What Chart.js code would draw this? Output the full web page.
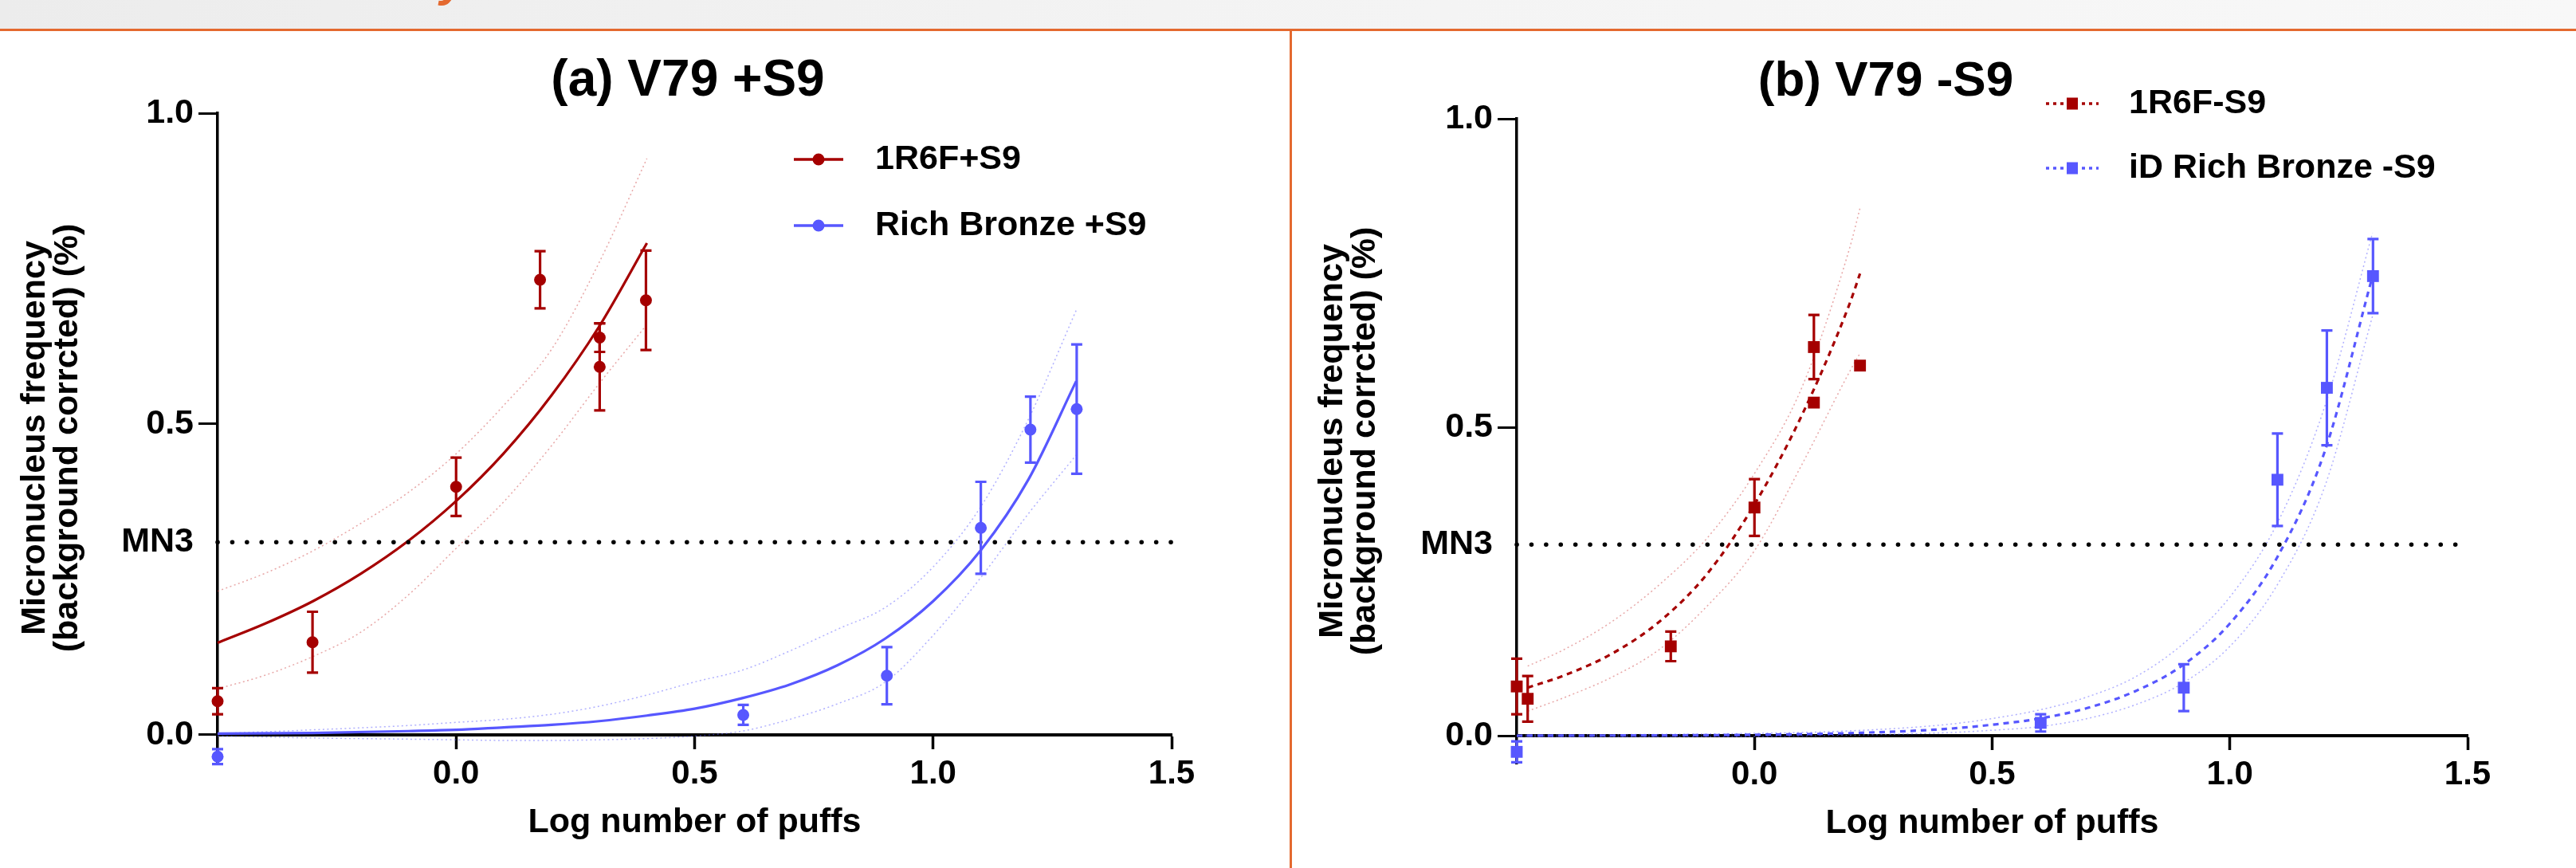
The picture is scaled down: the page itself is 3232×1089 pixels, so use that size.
<!DOCTYPE html>
<html>
<head>
<meta charset="utf-8">
<script src="https://cdn.jsdelivr.net/npm/chart.js@4.4.1/dist/chart.umd.min.js"></script>
<style>
html,body{margin:0;padding:0;background:#fff;}
body{width:3232px;height:1089px;overflow:hidden;position:relative;font-family:"Liberation Sans",Arial,sans-serif;}
#topband{position:absolute;left:0;top:0;width:3232px;height:37px;background:linear-gradient(to right,#ececec,#f3f3f3 45%,#f8f8f8);}
#ydesc{position:absolute;left:552px;top:-55px;font:italic bold 60px/60px "Liberation Sans",Arial,sans-serif;color:#e4692f;}
#hline{position:absolute;left:0;top:36px;width:3232px;height:3px;background:#e4692f;}
#vline{position:absolute;left:1618px;top:36px;width:3px;height:1053px;background:#e4692f;}
canvas{position:absolute;top:0;}
#ca{left:0;}
#cb{left:1616px;}
</style>
</head>
<body>
<div id="topband"></div>
<div id="ydesc">y</div>
<div id="hline"></div>
<div id="vline"></div>
<canvas id="ca" width="1616" height="1089"></canvas>
<canvas id="cb" width="1616" height="1089"></canvas>
<script>
// ---------- shared axis data ----------
const xTickValues = [0, 0.5, 1.0, 1.5];
const xTickLabels = ['0.0', '0.5', '1.0', '1.5'];
const yTickValues = [0, 0.31, 0.5, 1.0];
const yTickLabels = ['0.0', 'MN3', '0.5', '1.0'];
const mn3Value = 0.31;
const mn3X = [-0.5, 1.5];
const mn3Y = [0.31, 0.31];
const xTitle = 'Log number of puffs';
const yTitleLines = ['Micronucleus frequency', '(background corrcted) (%)'];

// ---------- panel (a) V79 +S9 ----------
const titleA = '(a) V79 +S9';
const legendA = ['1R6F+S9', 'Rich Bronze +S9'];
const aRedX   = [-0.5, -0.301, 0, 0.176, 0.301, 0.301, 0.398];
const aRedY   = [0.054, 0.149, 0.399, 0.732, 0.639, 0.592, 0.699];
const aRedErr = [0.021, 0.049, 0.047, 0.046, 0.023, 0.070, 0.080];
const aBlueX   = [-0.5, 0.602, 0.903, 1.1, 1.204, 1.301];
const aBlueY   = [-0.035, 0.032, 0.095, 0.333, 0.491, 0.524];
const aBlueErr = [0.012, 0.016, 0.046, 0.074, 0.053, 0.104];
const aRedFitX  = [-0.5, -0.4, -0.3, -0.2, -0.1, 0, 0.1, 0.2, 0.3, 0.4];
const aRedFitY  = [0.148, 0.179, 0.215, 0.259, 0.312, 0.376, 0.453, 0.546, 0.657, 0.791];
const aRedUpper = [0.231, 0.260, 0.296, 0.340, 0.390, 0.452, 0.530, 0.620, 0.760, 0.927];
const aRedLower = [0.074, 0.096, 0.126, 0.165, 0.225, 0.300, 0.375, 0.465, 0.565, 0.660];
const aBlueFitX  = [-0.5, -0.3, -0.1, 0, 0.1, 0.2, 0.3, 0.4, 0.5, 0.6, 0.7, 0.8, 0.9, 1.0, 1.1, 1.2, 1.3];
const aBlueFitY  = [0.002, 0.003, 0.006, 0.008, 0.012, 0.016, 0.022, 0.031, 0.042, 0.059, 0.081, 0.112, 0.155, 0.215, 0.297, 0.411, 0.569];
const aBlueUpper = [0.002, 0.008, 0.015, 0.020, 0.025, 0.033, 0.046, 0.064, 0.085, 0.104, 0.135, 0.170, 0.205, 0.270, 0.367, 0.508, 0.683];
const aBlueLower = [-0.002, -0.005, -0.007, -0.008, -0.009, -0.009, -0.008, -0.006, -0.002, 0.006, 0.025, 0.050, 0.085, 0.160, 0.253, 0.356, 0.450];

// ---------- panel (b) V79 -S9 ----------
const titleB = '(b) V79 -S9';
const legendB = ['1R6F-S9', 'iD Rich Bronze -S9'];
const bRedX   = [-0.5, -0.477, -0.176, 0, 0.125, 0.125, 0.222];
const bRedY   = [0.080, 0.060, 0.145, 0.370, 0.630, 0.540, 0.600];
const bRedErr = [0.045, 0.037, 0.024, 0.046, 0.052, 0.006, 0];
const bBlueX   = [-0.5, 0.602, 0.903, 1.1, 1.204, 1.301];
const bBlueY   = [-0.026, 0.021, 0.078, 0.415, 0.564, 0.745];
const bBlueErr = [0.017, 0.014, 0.038, 0.075, 0.093, 0.060];
const bRedFitX  = [-0.477, -0.4, -0.3, -0.2, -0.1, 0, 0.1, 0.2, 0.222];
const bRedFitY  = [0.078, 0.098, 0.133, 0.185, 0.262, 0.375, 0.520, 0.700, 0.749];
const bRedUpper = [0.113, 0.140, 0.185, 0.245, 0.320, 0.425, 0.565, 0.790, 0.855];
const bRedLower = [0.040, 0.062, 0.095, 0.140, 0.210, 0.300, 0.440, 0.590, 0.620];
const bBlueFitX  = [-0.5, 0, 0.2, 0.4, 0.5, 0.6, 0.7, 0.8, 0.9, 1.0, 1.1, 1.2, 1.3];
const bBlueFitY  = [0.0002, 0.0017, 0.0044, 0.011, 0.018, 0.028, 0.045, 0.072, 0.114, 0.182, 0.290, 0.462, 0.745];
const bBlueUpper = [0.001, 0.004, 0.008, 0.018, 0.028, 0.042, 0.063, 0.095, 0.148, 0.225, 0.345, 0.535, 0.815];
const bBlueLower = [-0.001, -0.001, 0.001, 0.005, 0.009, 0.015, 0.028, 0.050, 0.085, 0.145, 0.245, 0.405, 0.680];

// ---------- styling ----------
const FONT = '"Liberation Sans", Arial, Helvetica, sans-serif';
const RED = '#a50000';
const BLUE = '#5757ff';
const RED_BAND = 'rgba(210, 80, 80, 0.5)';
const BLUE_BAND = 'rgba(100, 100, 255, 0.5)';

function pts(xs, ys) { return xs.map((x, i) => ({x: x, y: ys[i]})); }

function errPlugin(groups) {
  return {
    id: 'errbars',
    afterDatasetsDraw(chart) {
      const ctx = chart.ctx, sx = chart.scales.x, sy = chart.scales.y;
      groups.forEach(g => {
        ctx.save();
        ctx.strokeStyle = g.color; ctx.lineWidth = 3.2; ctx.lineCap = 'butt';
        g.xs.forEach((xv, i) => {
          const e = g.err[i];
          if (!e) return;
          const px = sx.getPixelForValue(xv);
          const t = sy.getPixelForValue(g.ys[i] + e);
          const b = sy.getPixelForValue(g.ys[i] - e);
          ctx.beginPath();
          ctx.moveTo(px, t); ctx.lineTo(px, b);
          ctx.moveTo(px - 7, t); ctx.lineTo(px + 7, t);
          ctx.moveTo(px - 7, b); ctx.lineTo(px + 7, b);
          ctx.stroke();
        });
        ctx.restore();
      });
    }
  };
}

function decoPlugin(spec) {
  return {
    id: 'deco',
    afterDraw(chart) {
      const ctx = chart.ctx;
      ctx.save();
      ctx.fillStyle = '#000';
      ctx.font = 'bold ' + spec.titleSize + 'px ' + FONT;
      ctx.textAlign = 'center'; ctx.textBaseline = 'middle';
      ctx.fillText(spec.title, spec.titleX, spec.titleY);
      spec.items.forEach((it, i) => {
        const yy = spec.rowsY[i];
        ctx.strokeStyle = it.color; ctx.lineWidth = 3.5;
        ctx.setLineDash(it.dash || []);
        ctx.beginPath(); ctx.moveTo(spec.lx0, yy); ctx.lineTo(spec.lx1, yy); ctx.stroke();
        ctx.setLineDash([]);
        ctx.fillStyle = it.color;
        const cx = (spec.lx0 + spec.lx1) / 2;
        if (it.shape === 'rect') { ctx.fillRect(cx - 7, yy - 7.5, 14, 15); }
        else { ctx.beginPath(); ctx.arc(cx, yy, 7.5, 0, Math.PI * 2); ctx.fill(); }
        ctx.fillStyle = '#000';
        ctx.font = 'bold 43px ' + FONT;
        ctx.textAlign = 'left'; ctx.textBaseline = 'middle';
        ctx.fillText(it.text, spec.tx, yy);
      });
      ctx.restore();
    }
  };
}

function scalesFor(p) {
  return {
    x: {
      type: 'linear', min: -0.5, max: 1.5, bounds: 'data', position: {y: 0},
      afterBuildTicks: s => { s.ticks = xTickValues.map(v => ({value: v})); },
      ticks: { callback: (v, i) => xTickLabels[i], font: {family: FONT, size: 42, weight: 'bold'}, color: '#000', padding: 8, maxRotation: 0, autoSkip: false },
      grid: { drawOnChartArea: false, drawTicks: true, tickLength: 16, tickWidth: 3.5, tickColor: '#000', color: '#000' },
      border: { display: true, color: '#000', width: 4 },
      title: { display: true, text: xTitle, font: {family: FONT, size: 43, weight: 'bold'}, color: '#000', padding: {top: 2, bottom: 0} }
    },
    y: {
      type: 'linear', min: -0.045, max: 1.0, bounds: 'data', position: 'left',
      afterBuildTicks: s => { s.ticks = yTickValues.map(v => ({value: v})); },
      afterFit: s => { s.width = p.yw; },
      ticks: { callback: (v, i) => yTickLabels[i], font: {family: FONT, size: 43, weight: 'bold'}, color: '#000', padding: 6, autoSkip: false },
      grid: { drawOnChartArea: false, drawTicks: true, tickLength: 24, tickWidth: 3,
              tickColor: c => (c.tick && c.tick.value === mn3Value) ? 'rgba(0,0,0,0)' : '#000', color: '#000' },
      border: { display: true, color: '#000', width: 3.5 },
      title: { display: true, text: yTitleLines, font: {family: FONT, size: 43, weight: 'bold', lineHeight: '41px'}, color: '#000', padding: {top: p.ytp, bottom: 0} }
    }
  };
}

function pointDs(xs, ys, color, style, r) {
  return { data: pts(xs, ys), showLine: false, pointStyle: style, pointRadius: r, pointBackgroundColor: color, pointBorderColor: color, pointBorderWidth: 0, borderColor: color, backgroundColor: color, clip: false };
}
function lineDs(xs, ys, color, width, dash) {
  return { data: pts(xs, ys), showLine: true, pointRadius: 0, borderColor: color, borderWidth: width, borderDash: dash || [], cubicInterpolationMode: 'monotone', fill: false, clip: false };
}

function makeChart(id, p) {
  const mn3 = lineDs(mn3X, mn3Y, '#000', 5.5, [0.1, 18.3]);
  mn3.borderCapStyle = 'round'; mn3.cubicInterpolationMode = 'default'; mn3.tension = 0;
  const datasets = [
    pointDs(p.redX, p.redY, RED, p.shape, p.r),
    pointDs(p.blueX, p.blueY, BLUE, p.shape, p.r),
    mn3,
    lineDs(p.redFitX, p.redFitY, RED, 3.2, p.fitDash),
    lineDs(p.blueFitX, p.blueFitY, BLUE, 3.2, p.fitDash),
    lineDs(p.redFitX, p.redUp, RED_BAND, 1.5, [2, 3.5]),
    lineDs(p.redFitX, p.redLo, RED_BAND, 1.5, [2, 3.5]),
    lineDs(p.blueFitX, p.blueUp, BLUE_BAND, 1.5, [2, 3.5]),
    lineDs(p.blueFitX, p.blueLo, BLUE_BAND, 1.5, [2, 3.5])
  ];
  return new Chart(document.getElementById(id), {
    type: 'line',
    data: { datasets: datasets },
    options: {
      responsive: false, animation: false, devicePixelRatio: 1, events: [],
      layout: { padding: p.pad },
      scales: scalesFor(p),
      plugins: { legend: {display: false}, tooltip: {enabled: false}, title: {display: false} }
    },
    plugins: [
      errPlugin([
        {xs: p.redX, ys: p.redY, err: p.redErr, color: RED},
        {xs: p.blueX, ys: p.blueY, err: p.blueErr, color: BLUE}
      ]),
      decoPlugin(p.deco)
    ]
  });
}

makeChart('ca', {
  yw: 273, ytp: 24, pad: {left: 0, right: 146, top: 142, bottom: 132},
  shape: 'circle', r: 7.5, fitDash: [],
  redX: aRedX, redY: aRedY, redErr: aRedErr,
  blueX: aBlueX, blueY: aBlueY, blueErr: aBlueErr,
  redFitX: aRedFitX, redFitY: aRedFitY, redUp: aRedUpper, redLo: aRedLower,
  blueFitX: aBlueFitX, blueFitY: aBlueFitY, blueUp: aBlueUpper, blueLo: aBlueLower,
  deco: {
    title: titleA, titleSize: 64, titleX: 863, titleY: 102,
    lx0: 996, lx1: 1058, tx: 1098, rowsY: [200, 283],
    items: [
      {text: legendA[0], color: RED, shape: 'circle'},
      {text: legendA[1], color: BLUE, shape: 'circle'}
    ]
  }
});

makeChart('cb', {
  yw: 287, ytp: 36, pad: {left: 0, right: 136, top: 149, bottom: 131},
  shape: 'rect', r: 10.5, fitDash: [7, 6],
  redX: bRedX, redY: bRedY, redErr: bRedErr,
  blueX: bBlueX, blueY: bBlueY, blueErr: bBlueErr,
  redFitX: bRedFitX, redFitY: bRedFitY, redUp: bRedUpper, redLo: bRedLower,
  blueFitX: bBlueFitX, blueFitY: bBlueFitY, blueUp: bBlueUpper, blueLo: bBlueLower,
  deco: {
    title: titleB, titleSize: 62, titleX: 750, titleY: 103,
    lx0: 951, lx1: 1017, tx: 1055, rowsY: [130, 211],
    items: [
      {text: legendB[0], color: RED, shape: 'rect', dash: [4, 5]},
      {text: legendB[1], color: BLUE, shape: 'rect', dash: [4, 5]}
    ]
  }
});
</script>
</body>
</html>
